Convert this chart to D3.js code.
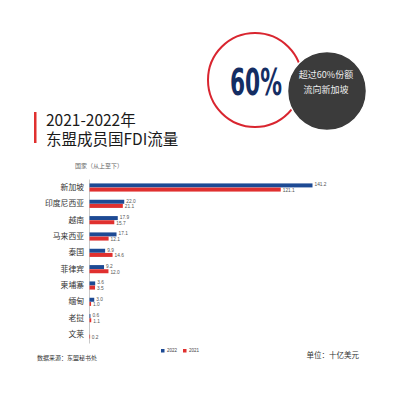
<!DOCTYPE html>
<html>
<head>
<meta charset="utf-8">
<script src="https://cdn.jsdelivr.net/npm/d3@7"></script>
<style>
  html, body { margin: 0; padding: 0; background: #fff; }
  svg { display: block; font-family: "Noto Sans CJK SC", "Noto Sans", sans-serif; }
</style>
</head>
<body>
<svg id="chart" width="400" height="400"></svg>
<script>
// data
const countries = ['新加坡', '印度尼西亚', '越南', '马来西亚', '泰国', '菲律宾', '柬埔寨', '缅甸', '老挝', '文莱'];
const fdi2022 = [141.2, 22.0, 17.9, 17.1, 9.9, 9.2, 3.6, 3.0, 0.6, null];
const fdi2021 = [121.1, 21.1, 15.7, 12.1, 14.6, 12.0, 3.5, 1.0, 1.1, 0.2];
const seriesNames = ['2022', '2021'];
const seriesColors = ['#1d4a94', '#e0302f'];

const svg = d3.select('#chart');

// header badge
svg.append('circle')
    .attr('cx', 255).attr('cy', 80).attr('r', 47)
    .attr('fill', '#fff')
    .attr('stroke', '#d9252f')
    .attr('stroke-width', 2);

svg.append('text')
    .attr('x', 256).attr('y', 95)
    .attr('text-anchor', 'middle')
    .attr('font-family', '"Liberation Sans Narrow", "DejaVu Sans Condensed", sans-serif')
    .attr('font-weight', 'bold')
    .attr('font-size', 37)
    .attr('fill', '#142d63')
    .attr('textLength', 52)
    .attr('lengthAdjust', 'spacingAndGlyphs')
    .text('60%');

svg.append('circle')
    .attr('cx', 327).attr('cy', 91).attr('r', 39.5)
    .attr('fill', '#3b3b3b')
    .attr('stroke', '#fff')
    .attr('stroke-width', 1.5);

svg.append('text')
    .attr('x', 326).attr('y', 78)
    .attr('text-anchor', 'middle')
    .attr('font-size', 9)
    .attr('fill', '#eee')
    .text('超过60%份额');

svg.append('text')
    .attr('x', 326).attr('y', 93)
    .attr('text-anchor', 'middle')
    .attr('font-size', 9)
    .attr('fill', '#eee')
    .text('流向新加坡');

// title
svg.append('rect')
    .attr('x', 34).attr('y', 112)
    .attr('width', 2.5).attr('height', 31)
    .attr('fill', '#e0302f');

svg.append('text')
    .attr('x', 46).attr('y', 126)
    .attr('font-size', 15.5)
    .attr('fill', '#1a1a1a')
    .text('2021-2022年');

svg.append('text')
    .attr('x', 46).attr('y', 145)
    .attr('font-size', 15.5)
    .attr('fill', '#1a1a1a')
    .text('东盟成员国FDI流量');

svg.append('text')
    .attr('x', 75).attr('y', 168)
    .attr('font-size', 6)
    .attr('fill', '#666')
    .text('国家（从上至下）');

// bars
const x = d3.scaleLinear()
    .domain([0, d3.max(fdi2022)])
    .range([89, 312]);

const y = d3.scaleBand()
    .domain(countries)
    .range([179, 343])
    .paddingInner(0.48)
    .paddingOuter(0.26);

const sub = d3.scaleBand()
    .domain(seriesNames)
    .range([0, y.bandwidth()])
    .padding(0.04);

const rows = countries.map(function (c, i) {
    return { name: c, values: [fdi2022[i], fdi2021[i]] };
});

svg.append('g')
    .attr('transform', 'translate(89,0)')
    .call(d3.axisLeft(y).tickSize(0).tickPadding(5))
    .call(function (g) {
        g.select('.domain').attr('stroke', '#bbb').attr('stroke-width', 0.8);
        g.selectAll('text')
            .attr('font-family', '"Noto Sans CJK SC", sans-serif')
            .attr('font-size', 7.8)
            .attr('fill', '#333');
    });

const groups = svg.append('g')
    .selectAll('g')
    .data(rows)
    .enter()
    .append('g')
    .attr('transform', function (d) {
        return 'translate(0,' + y(d.name) + ')';
    });

groups.selectAll('rect')
    .data(function (d) {
        return d.values.map(function (v, i) {
            return { key: seriesNames[i], value: v, color: seriesColors[i] };
        }).filter(function (d) { return d.value !== null; });
    })
    .enter()
    .append('rect')
    .attr('x', x(0) + 0.5)
    .attr('y', function (d) { return sub(d.key); })
    .attr('width', function (d) { return Math.max(0.6, x(d.value) - x(0)); })
    .attr('height', sub.bandwidth())
    .attr('fill', function (d) { return d.color; });

groups.selectAll('text')
    .data(function (d) {
        return d.values.map(function (v, i) {
            return { key: seriesNames[i], value: v };
        }).filter(function (d) { return d.value !== null; });
    })
    .enter()
    .append('text')
    .attr('x', function (d) { return x(d.value) + 2.5; })
    .attr('y', function (d) {
        return sub(d.key) + sub.bandwidth() / 2 + (d.key === '2022' ? 0.8 : 2.4);
    })
    .attr('font-family', '"Liberation Sans Narrow", "Liberation Sans", sans-serif')
    .attr('font-size', 4.8)
    .attr('fill', '#555')
    .text(function (d) { return d3.format('.1f')(d.value); });

// legend
const legend = svg.append('g')
    .attr('transform', 'translate(161,349)');

seriesNames.forEach(function (s, i) {
    const lg = legend.append('g').attr('transform', 'translate(' + (i * 22) + ',0)');
    lg.append('rect')
        .attr('width', 3.5).attr('height', 3.5)
        .attr('fill', seriesColors[i]);
    lg.append('text')
        .attr('x', 6).attr('y', 3.4)
        .attr('font-family', '"Liberation Sans", sans-serif')
        .attr('font-size', 4.5)
        .attr('fill', '#444')
        .text(s);
});

// footer
svg.append('text')
    .attr('x', 37).attr('y', 360)
    .attr('font-size', 6)
    .attr('fill', '#333')
    .text('数据来源：东盟秘书处');

svg.append('text')
    .attr('x', 359).attr('y', 358)
    .attr('text-anchor', 'end')
    .attr('font-size', 7.5)
    .attr('fill', '#333')
    .text('单位：十亿美元');
</script>
</body>
</html>
